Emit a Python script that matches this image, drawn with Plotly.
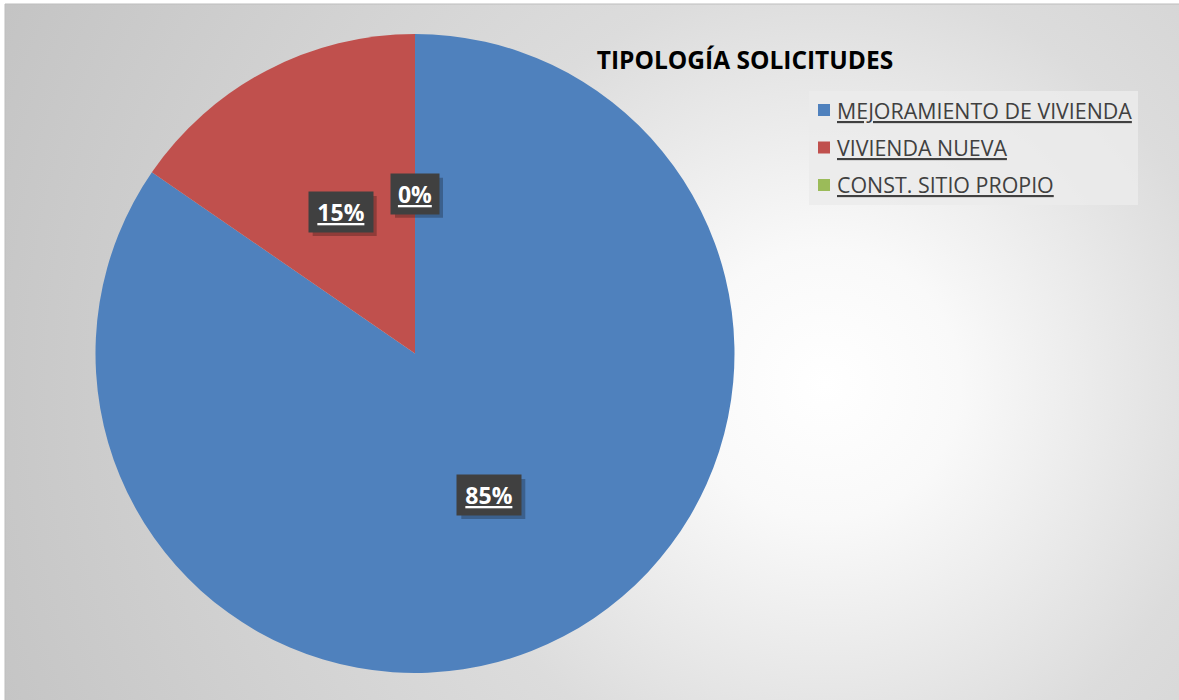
import base64
import math
import plotly.graph_objects as go

# ---- data ----
categories = ["MEJORAMIENTO DE VIVIENDA", "VIVIENDA NUEVA", "CONST. SITIO PROPIO"]
shares = [84.6, 15.4, 0.0]
colors = ["#4F81BD", "#C0504D", "#9BBB59"]
title_text = "TIPOLOGÍA SOLICITUDES"

W, H = 1179, 700

# ---- background (radial gradient like the Excel chart area) ----
svg = f'''<svg xmlns="http://www.w3.org/2000/svg" width="{W-5}" height="{H-4}" viewBox="0 0 {W-5} {H-4}">
<defs><radialGradient id="g" gradientUnits="userSpaceOnUse" cx="820" cy="380" r="900">
<stop offset="0" stop-color="#ffffff"/>
<stop offset="0.15" stop-color="#f9f9f9"/>
<stop offset="0.45" stop-color="#dcdcdc"/>
<stop offset="1" stop-color="#c4c4c4"/>
</radialGradient></defs>
<rect x="0" y="0" width="{W-5}" height="{H-4}" fill="url(#g)"/>
</svg>'''
bg_uri = "data:image/svg+xml;base64," + base64.b64encode(svg.encode()).decode()

# pie placement (pixels)
px0, px1, py0, py1 = 95, 735, 34, 673
dom_x = [px0 / W, px1 / W]
dom_y = [1 - py1 / H, 1 - py0 / H]

fig = go.Figure()
fig.add_trace(go.Pie(
    labels=categories,
    values=shares,
    marker=dict(colors=colors, line=dict(width=0)),
    sort=False,
    direction="clockwise",
    rotation=0,
    textinfo="none",
    hoverinfo="label+percent",
    domain=dict(x=dom_x, y=dom_y),
    showlegend=False,
))

shapes = []
annotations = []

# ---- data labels at half radius on slice mid-angle ----
total = sum(shares)
cx = (px0 + px1) / 2
cy = (py0 + py1) / 2
r = min(px1 - px0, py1 - py0) / 2
cum = 0.0
for name, v in zip(categories, shares):
    mid = (cum + v / 2) / total * 2 * math.pi
    cum += v
    lx = cx + 0.5 * r * math.sin(mid)
    ly = cy - 0.5 * r * math.cos(mid)
    txt = f"{round(v / total * 100)}%"
    bw = 16 * len(txt) + 6
    boxw, boxh = bw + 10, 40
    # shadow
    shapes.append(dict(type="rect", xref="paper", yref="paper",
                       x0=(lx - boxw / 2 + 4) / W, x1=(lx + boxw / 2 + 4) / W,
                       y0=1 - (ly + boxh / 2 + 4) / H, y1=1 - (ly - boxh / 2 + 4) / H,
                       fillcolor="rgba(0,0,0,0.25)", line=dict(width=0)))
    annotations.append(dict(text=f"<b>{txt}</b>", bgcolor="#404040",
                            x=lx / W, y=1 - ly / H, xref="paper", yref="paper",
                            showarrow=False, xanchor="center", yanchor="middle",
                            width=bw, height=30, borderpad=5, align="center",
                            font=dict(family="Open Sans", size=23, color="#ffffff",
                                      lineposition="under")))

# ---- legend (manual, Excel-like spacing) ----
leg_top, leg_gap = 110, 37.5
shapes.append(dict(type="rect", xref="paper", yref="paper",
                   x0=809 / W, x1=1138 / W, y0=1 - 205 / H, y1=1 - 91 / H,
                   fillcolor="rgba(235,235,235,0.85)", line=dict(width=0), layer="below"))
for i, (name, c) in enumerate(zip(categories, colors)):
    yc = leg_top + i * leg_gap
    shapes.append(dict(type="rect", xref="paper", yref="paper",
                       x0=818 / W, x1=830 / W, y0=1 - (yc + 6) / H, y1=1 - (yc - 6) / H,
                       fillcolor=c, line=dict(width=0)))
    annotations.append(dict(text=name, x=835 / W, y=1 - yc / H, xref="paper", yref="paper",
                            showarrow=False, xanchor="left", yanchor="middle",
                            font=dict(family="Open Sans", size=21.4, color="#404040",
                                      lineposition="under")))

# chart area border
shapes.append(dict(type="rect", xref="paper", yref="paper",
                   x0=5 / W, x1=1 + 2 / W, y0=-2 / H, y1=1 - 4 / H,
                   line=dict(color="#bdbdbd", width=1), fillcolor="rgba(0,0,0,0)", layer="below"))

fig.update_layout(
    width=W, height=H,
    margin=dict(l=0, r=0, t=0, b=0),
    paper_bgcolor="#ffffff",
    plot_bgcolor="rgba(0,0,0,0)",
    title=dict(text=f"<b>{title_text}</b>", x=745 / W, y=1 - 60 / H,
               xanchor="center", yanchor="middle", xref="paper", yref="paper",
               font=dict(family="Open Sans", size=24.5, color="#000000")),
    images=[dict(source=bg_uri, xref="paper", yref="paper", x=5 / W, y=1 - 4 / H,
                 sizex=(W - 5) / W, sizey=(H - 4) / H, xanchor="left", yanchor="top",
                 sizing="stretch", layer="below")],
    shapes=shapes,
    annotations=annotations,
    showlegend=False,
)

fig.write_html("out.html", config={"displayModeBar": False},
               post_script="document.body.style.margin='0';")
